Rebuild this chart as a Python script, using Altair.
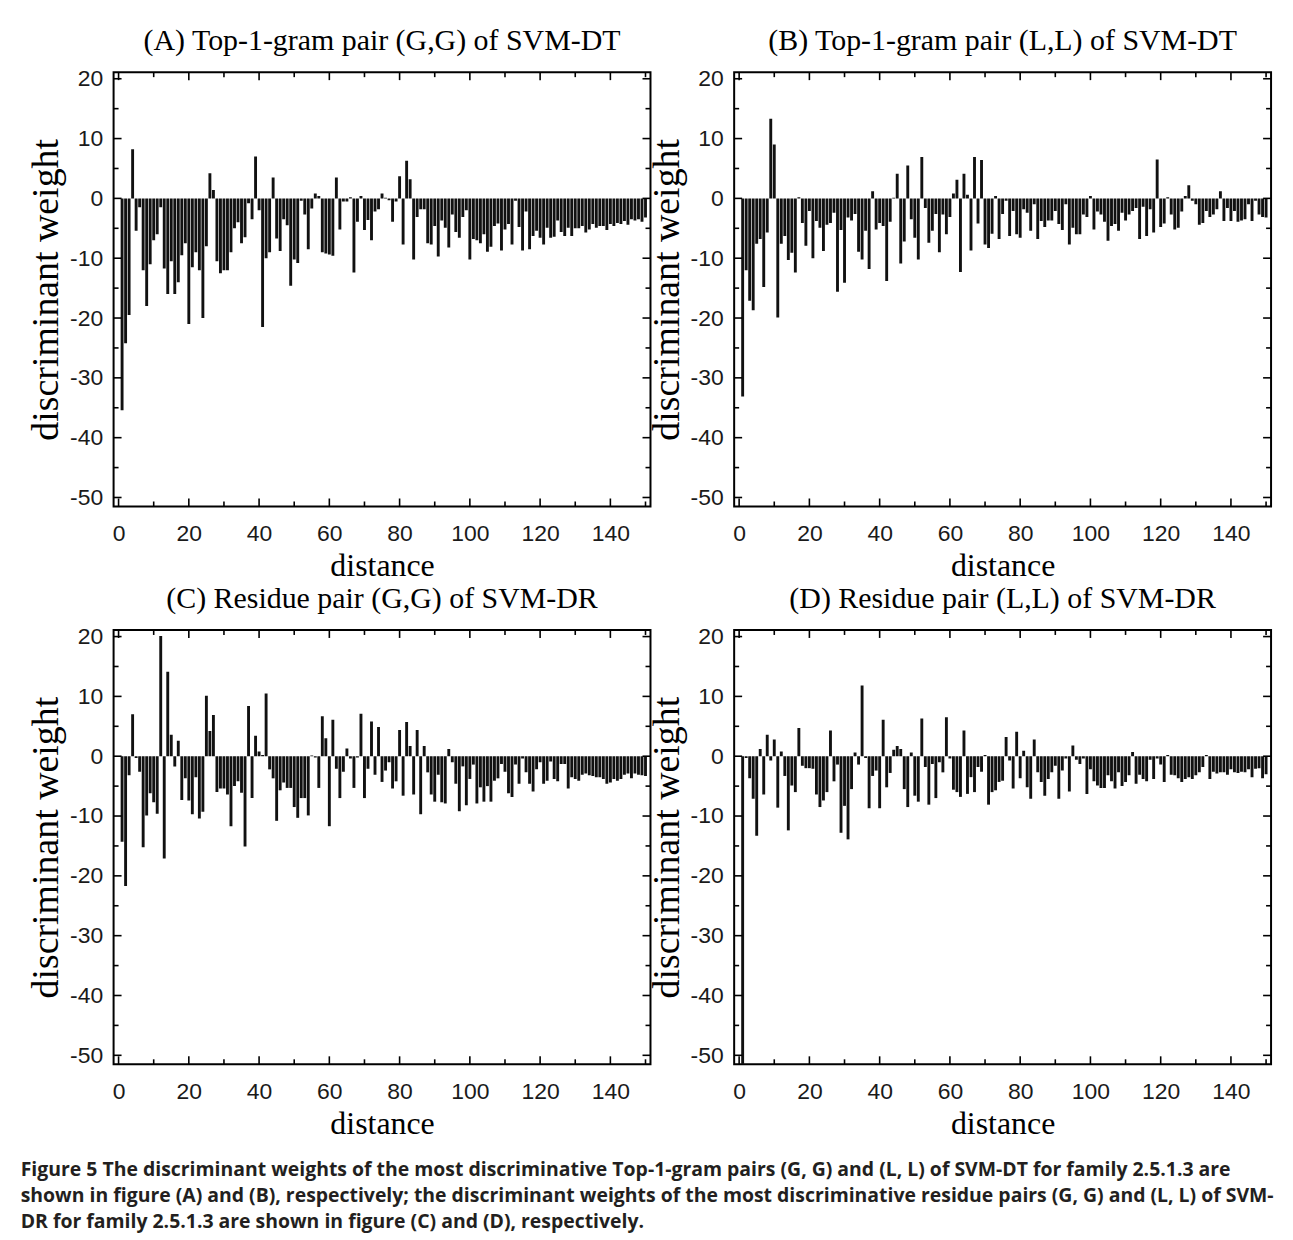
import altair as alt
import pandas as pd

distance = list(range(1, 151))

weights_A = [
    -35.4, -24.2, -19.5, 8.2, -5.4, -1.5, -12, -18, -11, -7,
    -6, -1.5, -11.7, -16, -10.5, -16, -14, -9.5, -7.5, -21,
    -11.5, -9, -12, -20, -8, 4.2, 1.4, -10.5, -12.5, -12,
    -12, -9, -5, -4, -7.5, -6.5, -0.8, -3.5, 7, -2,
    -21.5, -10, -9, 3.5, -6.7, -8.8, -3.5, -4.5, -14.6, -10.2,
    -10.8, -0.4, -2.7, -8.5, -1.7, 0.8, 0.4, -9, -9.2, -9.4,
    -9.6, 3.5, -5.2, -0.5, -0.5, 0.2, -12.4, -3.9, 0.4, -5.3,
    -3.6, -7, -2.2, -1.8, 0.8, 0.1, -0.3, -3.9, -0.5, 3.7,
    -7.7, 6.3, 3.2, -10.2, -3.1, -1.8, -1.8, -7.5, -7.7, -4.6,
    -9.7, -3.7, -4.9, -8.2, -2.7, -5.6, -6.6, -3.1, -2, -10.2,
    -6.8, -7, -7.5, -6, -8.9, -8.1, -4.6, -4.2, -8.7, -5.2,
    -4.3, -7.7, -0.4, -4.8, -8.7, -2.2, -8.5, -6.3, -5.4, -6.6,
    -7.7, -4.9, -6.6, -6.4, -3.7, -5.6, -6.3, -4.9, -6.3, -5,
    -5, -4.6, -5.7, -5.2, -4.3, -4.9, -4.6, -4.6, -5.3, -4.3,
    -4.6, -4.1, -4.3, -3.8, -4.4, -3.5, -3.7, -3.5, -3.9, -3.2,
]

weights_B = [
    -33.1, -12, -17.1, -18.7, -7.6, -6.8, -14.8, -5.7, 13.3, 9,
    -19.9, -7.6, -6.3, -10.3, -9.1, -12.4, 0.2, -4.1, -7.9, -2.1,
    -10, -3.8, -4.9, -8.8, -4.4, -4.1, -2.4, -15.6, -5.3, -14.1,
    -3.2, -3.7, -2.6, -8.9, -10.2, -5.4, -11.8, 1.2, -5.2, -4.1,
    -4.6, -13.8, -3.9, 0.1, 4.1, -10.9, -7.2, 5.5, -3.5, -6.6,
    -10.2, 6.9, -1.6, -7.4, -5.4, -2.6, -9, -2.7, -6, -3.1,
    0.8, 3.1, -12.3, 4.1, 0.6, -8.7, 6.9, -4.2, 6.4, -7.7,
    -8.3, -5.9, 0.4, -6.8, -2.6, -0.4, -6.3, -2.1, -6, -6.6,
    -1.8, -2.4, -5.4, -1, -6.8, -3.8, -4.8, -3.7, -3.7, -2.1,
    -4.3, -5.3, -1, -7.7, -4.9, -6, -6, -2.7, -3.1, 0.4,
    -5.2, -2.2, -2.7, -3.9, -7.1, -4.6, -4.3, -5.4, -2.4, -3.7,
    -2.7, -2.1, -1.6, -6.8, -1.4, -6.3, -1.8, -5.7, 6.5, -4.8,
    -4.2, 0.2, -2.7, -5.2, -4.9, -2.2, 0.4, 2.2, -0.4, -1,
    -4.4, -4.1, -2.1, -3.1, -2.7, -1.8, 1.2, -3.8, -1.6, -3.8,
    -2.1, -3.9, -3.7, -3.5, -1, -3.8, -0.4, -2.7, -3.1, -3.2,
]

weights_C = [
    -14.3, -21.7, -3.2, 7, -0.3, -2.6, -15.2, -9.9, -6.2, -7.7,
    -9.6, 20.1, -17.1, 14.1, 3.6, -1.7, 2.6, -7.3, -3.7, -7.4,
    -9.7, -3.5, -10.4, -9.3, 10.1, 4.2, 6.9, -6, -5.4, -5.4,
    -6.4, -11.7, -5, -4.2, -6.1, -15.1, 8.4, -7, 3.4, 0.8,
    0.2, 10.5, -2.2, -3.7, -10.8, -5.7, -4.4, -5.3, -5.3, -8.5,
    -10.3, -7, -7, -9.9, 0.1, -0.2, -5.3, 6.7, 3, -11.7,
    6.1, -2.1, -7, -2.6, 1.3, -0.4, -5.3, -0.2, 7.1, -7,
    -2.1, 5.8, -3.1, 4.9, -4.3, -2.4, -1, -5.4, -4.2, 4.4,
    -6.6, 5.7, 1.7, -6.4, 4.4, -9.7, 1.7, -2.7, -6.4, -7.6,
    -3.1, -7.7, -7.9, 1.2, -1, -4.6, -9.2, -1.7, -8.2, -3.8,
    -1.4, -7.9, -5.2, -7.6, -5, -7.6, -4.1, -3.7, -1.3, -2.6,
    -6.2, -6.8, -1.4, -4.6, -0.4, -2.7, -4.6, -5.9, -2.2, -1,
    -4.6, -4.1, -0.9, -3.8, -4.2, -1.3, -1.3, -5.4, -3.5, -3.8,
    -4.1, -3.1, -2.9, -3.2, -3.3, -3.5, -3.5, -3.8, -4.6, -4.4,
    -3.8, -4.1, -3.8, -3.1, -2.9, -3.7, -2.9, -3.1, -3.2, -3.3,
]

weights_D = [
    -52, -0.3, -3.7, -7.1, -13.3, 1.2, -6.4, 3.6, -0.7, 2.8,
    -8.6, 0.8, -3.3, -12.4, -4.9, -6, 4.7, -1.6, -2, -2,
    -2.1, -6.4, -8.5, -7.4, -6, 4.3, -4.2, -1.4, -12.8, -8.3,
    -13.9, -5.5, 0.6, -1.4, 11.8, -0.3, -8.7, -3.3, -2.4, -8.7,
    6.1, -5.2, -2.8, 1.1, 1.7, 1.2, -5.5, -8.5, 0.6, -6.6,
    -7.6, 6.3, -1.8, -8.1, -1.3, -7, -1, -2.7, 6.5, -0.4,
    -5.6, -6, -6.8, 4.3, -6.3, -3.5, -6, -1.8, -2.6, 0.2,
    -8.1, -6, -5.7, -4.3, -4.1, 3.2, -0.7, -5.4, 4.1, -3.7,
    0.9, -5.2, -7.1, 2.8, -2.7, -4.3, -6.6, -3.8, -2.7, -1.6,
    -7.1, -2.4, -0.4, -5.9, 1.8, -0.6, -1.3, -0.4, -6.3, -2.2,
    -4.2, -4.9, -5.3, -5.3, -3.2, -4.2, -5.4, -2.7, -5, -4.3,
    -3.2, 0.7, -4.6, -3.1, -3.8, -4.2, -0.6, -3.8, -0.4, -1.4,
    -4.3, 0.2, -3.1, -3.2, -3.7, -4.3, -3.8, -3.5, -3.8, -3.2,
    -2.7, -1.8, 0.2, -3.8, -2.6, -2.9, -2.7, -2.7, -3.1, -2.2,
    -2.7, -2.8, -2.6, -2.7, -2.2, -3.5, -2.1, -2, -3.7, -3,
]

titles = [
    "(A) Top-1-gram pair (G,G) of SVM-DT",
    "(B) Top-1-gram pair (L,L) of SVM-DT",
    "(C) Residue pair (G,G) of SVM-DR",
    "(D) Residue pair (L,L) of SVM-DR",
]

y_major = [-50, -40, -30, -20, -10, 0, 10, 20]
y_minor = [-45, -35, -25, -15, -5, 5, 15]
x_major = [0, 20, 40, 60, 80, 100, 120, 140]
x_minor = [10, 30, 50, 70, 90, 110, 130, 150]

caption_lines = [
    "Figure 5 The discriminant weights of the most discriminative Top-1-gram pairs (G, G) and (L, L) of SVM-DT for family 2.5.1.3 are",
    "shown in figure (A) and (B), respectively; the discriminant weights of the most discriminative residue pairs (G, G) and (L, L) of SVM-",
    "DR for family 2.5.1.3 are shown in figure (C) and (D), respectively.",
]

W, H = 539, 436
Y_DOMAIN = [-51.5, 21.1]
X_DOMAIN = [0, 150]

xs = alt.Scale(domain=X_DOMAIN, nice=False, zero=False)
ys = alt.Scale(domain=Y_DOMAIN, nice=False, zero=False)

MINUS_FIX = "replace(datum.label, '\u2212', '-')"

x_axis = alt.Axis(values=x_major, title="distance", labelExpr=MINUS_FIX,
                  labelPadding=16, titlePadding=5)
y_axis = alt.Axis(values=y_major, title="discriminant weight", labelExpr=MINUS_FIX,
                  labelPadding=11, titlePadding=4)


def tick_layer(vals, side, length):
    d = pd.DataFrame({"v": vals})
    base = alt.Chart(d).mark_rule(color="black", strokeWidth=1.6)
    if side == "left":
        return base.encode(y=alt.Y("v:Q", scale=ys, axis=y_axis), x=alt.value(0), x2=alt.value(length))
    if side == "right":
        return base.encode(y=alt.Y("v:Q", scale=ys, axis=y_axis), x=alt.value(W - length), x2=alt.value(W))
    if side == "top":
        return base.encode(x=alt.X("v:Q", scale=xs, axis=x_axis), y=alt.value(0), y2=alt.value(length))
    return base.encode(x=alt.X("v:Q", scale=xs, axis=x_axis), y=alt.value(H - length), y2=alt.value(H))


def panel(vals, title):
    df = pd.DataFrame({"distance": distance, "weight": vals})
    bars = alt.Chart(df).mark_bar(size=2.9, color="#111111", clip=True).encode(
        x=alt.X("distance:Q", scale=xs, axis=x_axis),
        y=alt.Y("weight:Q", scale=ys, axis=y_axis),
        y2=alt.datum(0),
    )
    layers = [bars]
    for side in ["left", "right"]:
        layers.append(tick_layer(y_major, side, 8))
        layers.append(tick_layer(y_minor, side, 5))
    for side in ["top", "bottom"]:
        layers.append(tick_layer(x_major, side, 8))
        layers.append(tick_layer(x_minor, side, 5))
    return alt.layer(*layers).properties(
        width=W,
        height=H,
        title=alt.TitleParams(
            text=title, font="Liberation Serif", fontSize=30, fontWeight="normal",
            color="black", anchor="middle", baseline="bottom", offset=-18.5,
        ),
    )


panels = [panel(v, t) for v, t in zip([weights_A, weights_B, weights_C, weights_D], titles)]

chart = alt.concat(
    *panels, columns=2, spacing={"row": 124, "column": 84}, bounds="flush"
).properties(
    padding={"left": 12, "top": 15, "right": 10, "bottom": 10},
    title=alt.TitleParams(
        text=caption_lines, orient="bottom", anchor="start", font="Open Sans",
        fontSize=19.5, fontWeight="bold", color="#231f20", lineHeight=26,
        offset=21, dx=-6,
    ),
).configure_view(
    stroke="black", strokeWidth=2
).configure_axis(
    domain=False, ticks=False, tickSize=0, grid=False,
    labelFont="Liberation Sans", labelFontSize=23, labelColor="#1a1a1a",
    titleFont="Liberation Serif", titleFontWeight="normal", titleColor="black",
).configure_axisY(
    titleFontSize=38,
).configure_axisX(
    titleFontSize=32,
)

chart.save("out.html", embed_options={"renderer": "svg", "actions": False})
